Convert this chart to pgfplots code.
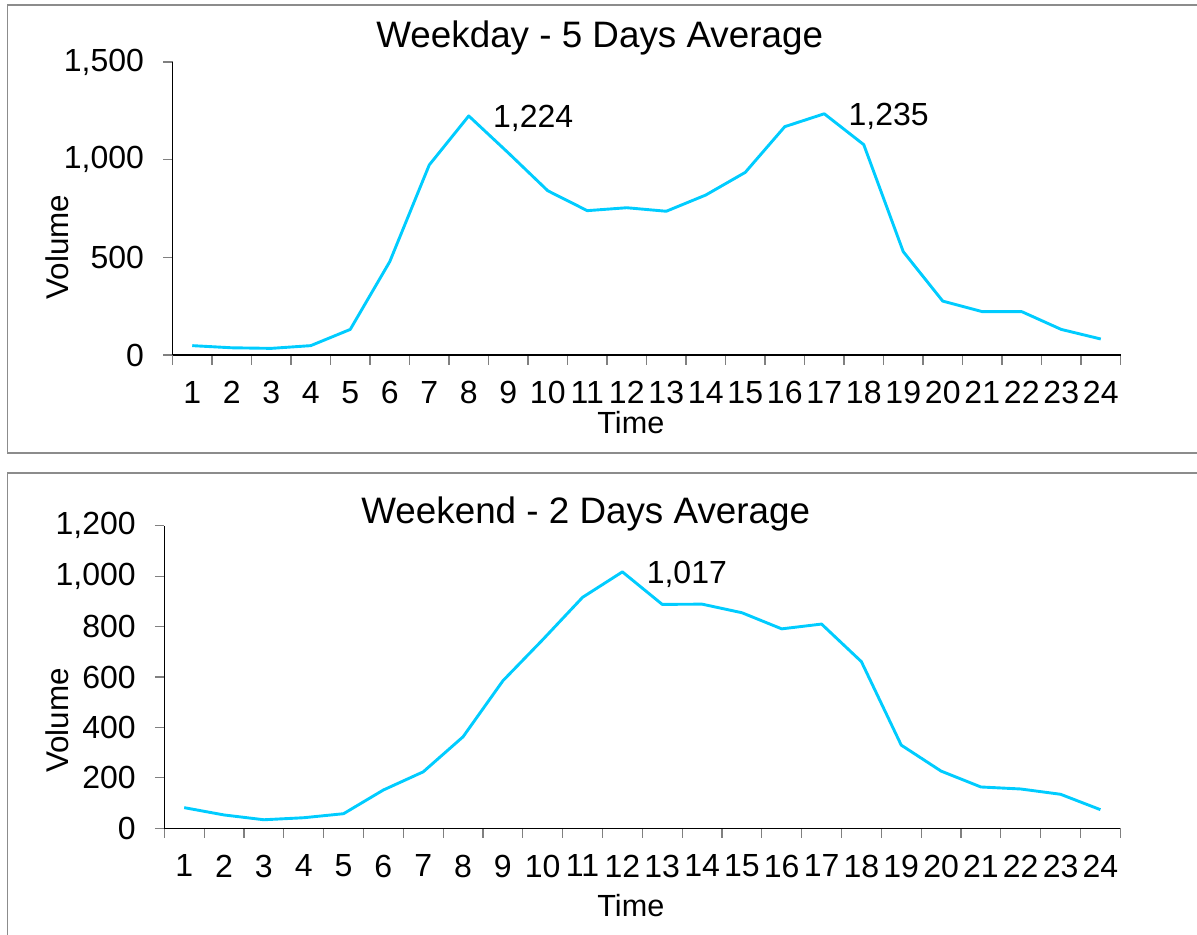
\documentclass[border=0pt]{standalone}
\usepackage{fontspec}
\setmainfont{Liberation Sans}
\usepackage{pgfplots}
\usepackage{pgfplotstable}
\pgfplotsset{compat=1.18}
\definecolor{linec}{RGB}{0,204,255}
\definecolor{framec}{RGB}{140,140,140}
\definecolor{tickc}{RGB}{128,128,128}

\pgfplotstableread{
t v
1 48
2 37
3 34
4 48
5 131
6 478
7 973
8 1224
9 1035
10 841
11 739
12 754
13 736
14 819
15 935
16 1169
17 1235
18 1077
19 529
20 276
21 222
22 222
23 131
24 82
}\weekday

\pgfplotstableread{
t v
1 82
2 53
3 34
4 42
5 58
6 152
7 224
8 363
9 585
10 748
11 916
12 1017
13 888
14 889
15 855
16 791
17 810
18 661
19 330
20 227
21 164
22 156
23 135
24 74
}\weekend

\pgfplotsset{myax/.style={
  scale only axis,
  axis x line*=bottom, axis y line*=left,
  axis line style={black, line width=0.6pt, -},
  xmin=0.5, xmax=24.5, ymin=0,
  xtick={1,...,24},
  major x tick style={draw=none},
  minor xtick={0.5,1.5,...,24.5},
  tick align=outside,
  major tick length=4.75pt, minor tick length=4.75pt,
  tick style={tickc, line width=0.6pt},
  minor tick style={tickc, line width=0.6pt},
  ticklabel style={font=\fontsize{16}{19}\selectfont},
  xticklabel style={yshift=-5pt},
  yticklabel style={xshift=-6pt},
  /pgf/number format/assume math mode=true,
  /pgf/number format/1000 sep={,},
  clip=false,
}}

\begin{document}
\begin{tikzpicture}[x=0.5pt,y=-0.5pt]
\useasboundingbox (0,0) rectangle (1197,934);
\begin{scope}
\clip (0,0) rectangle (1197,934);
\draw[framec, line width=0.85pt] (7.5,5) rectangle (1215,453);
\draw[framec, line width=0.85pt] (7.5,473.3) rectangle (1215,960);
\end{scope}
\coordinate (A1) at (172.5,355);
\coordinate (A2) at (164.3,828.3);

\begin{axis}[myax, at={(A1)}, anchor=south west,
  width=474pt, height=146.5pt, ymax=1500, ytick={0,500,1000,1500}]
\addplot[linec, line width=1.45pt, line join=round, mark=none] table[x=t,y=v]{\weekday};
\addplot[draw=none, mark=none, nodes near coords, point meta=explicit symbolic,
  nodes near coords style={anchor=base west, inner sep=0pt, xshift=12pt, yshift=-6pt, font=\fontsize{16}{19}\selectfont}]
  coordinates {(8,1224) [1{,}224] (17,1235) [1{,}235]};
\end{axis}

\begin{axis}[myax, at={(A2)}, anchor=south west,
  width=478pt, height=151.3pt, ymax=1200, ytick={0,200,...,1200}]
\addplot[linec, line width=1.45pt, line join=round, mark=none] table[x=t,y=v]{\weekend};
\addplot[draw=none, mark=none, nodes near coords, point meta=explicit symbolic,
  nodes near coords style={anchor=base west, inner sep=0pt, xshift=12pt, yshift=-6pt, font=\fontsize{16}{19}\selectfont}]
  coordinates {(12,1017) [1{,}017]};
\end{axis}

\node[anchor=base west, inner sep=0pt, font=\fontsize{18.4}{22}\selectfont] at (376,47) {Weekday - 5 Days Average};
\node[anchor=base west, inner sep=0pt, font=\fontsize{18.4}{22}\selectfont] at (361,523.3) {Weekend - 2 Days Average};
\node[anchor=base west, inner sep=0pt, font=\fontsize{15.3}{18}\selectfont] at (597,433.5) {Time};
\node[anchor=base west, inner sep=0pt, font=\fontsize{15.3}{18}\selectfont] at (597,916.7) {Time};
\node[anchor=base west, inner sep=0pt, rotate=90, font=\fontsize{15.7}{18}\selectfont] at (68,300) {Volume};
\node[anchor=base west, inner sep=0pt, rotate=90, font=\fontsize{15.7}{18}\selectfont] at (68,773.3) {Volume};
\end{tikzpicture}
\end{document}
